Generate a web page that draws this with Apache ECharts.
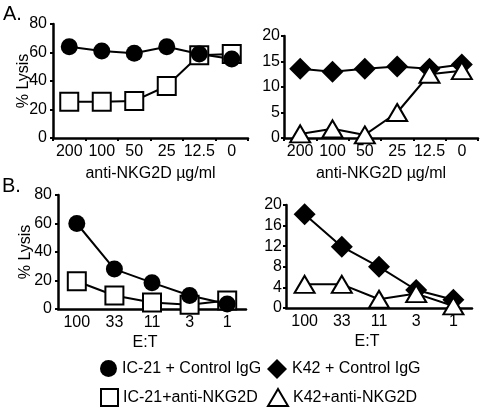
<!DOCTYPE html>
<html>
<head>
<meta charset="utf-8">
<script src="https://cdn.jsdelivr.net/npm/echarts@6/dist/echarts.min.js"></script>
<style>html,body{margin:0;padding:0;background:#fff;}#c{width:480px;height:407px;}</style>
</head>
<body>
<div id="c"></div>
<script>
var catA = ['200', '100', '50', '25', '12.5', '0'];
var catB = ['100', '33', '11', '3', '1'];
var A_IC21_ctrl = [64, 61, 59.5, 64, 59, 55.5];
var A_IC21_anti = [25.5, 25.5, 26, 36.5, 58, 59];
var A_K42_ctrl = [13.6, 13, 13.6, 14, 13.6, 14.4];
var A_K42_anti = [0.8, 1.8, 0.6, 5, 12.5, 13.2];
var B_IC21_ctrl = [60, 28, 18.5, 9.5, 3.5];
var B_IC21_anti = [19.5, 9.5, 4.5, 3, 6];
var B_K42_ctrl = [18.2, 11.9, 8, 3.5, 1.6];
var B_K42_anti = [4.6, 4.6, 1.7, 2.8, 0.4];
var names = ['IC-21 + Control IgG', 'K42 + Control IgG', 'IC-21+anti-NKG2D', 'K42+anti-NKG2D'];

var FF = 'Liberation Sans, Arial, Helvetica, sans-serif';
var chart = echarts.init(document.getElementById('c'), null, {renderer: 'canvas'});

function xAx(idx, cats, name, gap, showTick, pad) {
  return {
    type: 'category', gridIndex: idx, data: cats, boundaryGap: true,
    name: name, nameLocation: 'middle', nameGap: gap, nameMoveOverlap: false,
    nameTextStyle: {color: '#000', fontSize: 16, fontFamily: FF, padding: pad || 0},
    axisLine: {lineStyle: {color: '#000', width: 2.5}},
    axisTick: {show: showTick, interval: 0, length: 3, lineStyle: {color: '#000', width: 2}},
    axisLabel: {color: '#000', fontSize: 16, fontFamily: FF, margin: 6, interval: 0, hideOverlap: false},
    splitLine: {show: false}
  };
}
function yAx(idx, max, interval, name, margin, gap) {
  return {
    type: 'value', gridIndex: idx, min: 0, max: max, interval: interval,
    name: name, nameLocation: 'middle', nameGap: gap, nameRotate: 90, nameMoveOverlap: false,
    nameTextStyle: {color: '#000', fontSize: 16, fontFamily: FF},
    axisLine: {show: true, lineStyle: {color: '#000', width: 2.5}},
    axisTick: {show: true, length: 3, lineStyle: {color: '#000', width: 2}},
    axisLabel: {color: '#000', fontSize: 16, fontFamily: FF, margin: margin},
    splitLine: {show: false}
  };
}
function ser(name, idx, data, symbol, size, filled) {
  return {
    type: 'line', name: name, xAxisIndex: idx, yAxisIndex: idx, data: data,
    symbol: symbol, symbolSize: size, showSymbol: true, showAllSymbol: true,
    lineStyle: {color: '#000', width: 2},
    itemStyle: filled ? {color: '#000', borderColor: '#000', borderWidth: 0}
                      : {color: '#fff', borderColor: '#000', borderWidth: 2},
    emphasis: {disabled: true},
    animation: false
  };
}
function leg(name, icon, left, top, w, h) {
  return {
    data: [{name: name, icon: icon}], left: left, top: top, itemWidth: w, itemHeight: h,
    itemGap: 0, padding: 0, selectedMode: false,
    textStyle: {color: '#000', fontSize: 16, fontFamily: FF}
  };
}

var option = {
  backgroundColor: '#fff',
  animation: false,
  grid: [
    {left: 53, top: 24, width: 195, height: 114},
    {left: 284, top: 36, width: 194, height: 102},
    {left: 58, top: 195, width: 188, height: 114},
    {left: 286, top: 205, width: 186, height: 103}
  ],
  xAxis: [
    xAx(0, catA, 'anti-NKG2D \u00b5g/ml', 28, true),
    xAx(1, catA, 'anti-NKG2D \u00b5g/ml', 28, true),
    xAx(2, catB, 'E:T', 26, false, [0, 14, 0, 0]),
    xAx(3, catB, 'E:T', 26, false, [0, 24, 0, 0])
  ],
  yAxis: [
    yAx(0, 80, 20, '% Lysis', 6, 21),
    yAx(1, 20, 5, '', 4, 10),
    yAx(2, 80, 20, '% Lysis', 6, 24),
    yAx(3, 20, 4, '', 4, 10)
  ],
  legend: [
    leg(names[0], 'circle', 100, 360, 17, 17),
    leg(names[1], 'diamond', 267, 359, 20, 20),
    leg(names[2], 'rect', 100, 388, 17, 17),
    leg(names[3], 'triangle', 267, 388, 20, 17)
  ],
  series: [
    ser(names[2], 0, A_IC21_anti, 'rect', 18, false),
    ser(names[0], 0, A_IC21_ctrl, 'circle', 17, true),
    ser(names[1], 1, A_K42_ctrl, 'diamond', 22, true),
    ser(names[3], 1, A_K42_anti, 'triangle', [20, 17], false),
    ser(names[2], 2, B_IC21_anti, 'rect', 18, false),
    ser(names[0], 2, B_IC21_ctrl, 'circle', 17, true),
    ser(names[1], 3, B_K42_ctrl, 'diamond', 22, true),
    ser(names[3], 3, B_K42_anti, 'triangle', [20, 17], false)
  ],
  graphic: [
    {type: 'text', left: 3, top: 4, style: {text: 'A.', fill: '#000', font: '20px ' + FF}},
    {type: 'text', left: 2, top: 176, style: {text: 'B.', fill: '#000', font: '20px ' + FF}}
  ]
};
chart.setOption(option);
</script>
</body>
</html>
